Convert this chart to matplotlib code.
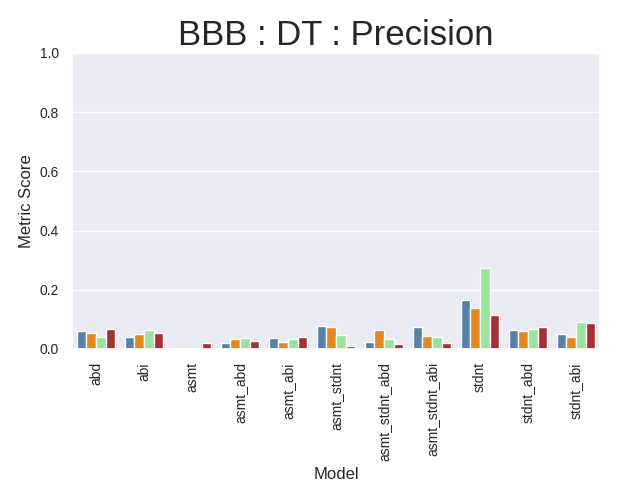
import matplotlib
matplotlib.use("Agg")
import matplotlib.pyplot as plt
import seaborn as sns
import pandas as pd

# models on the x axis
models = ["abd", "abi", "asmt", "asmt_abd", "asmt_abi", "asmt_stdnt",
          "asmt_stdnt_abd", "asmt_stdnt_abi", "stdnt", "stdnt_abd", "stdnt_abi"]

# precision per hue group
grp1 = [0.061, 0.040, 0.000, 0.019, 0.037, 0.078, 0.023, 0.074, 0.164, 0.064, 0.050]
grp2 = [0.054, 0.050, 0.000, 0.033, 0.023, 0.074, 0.064, 0.043, 0.140, 0.061, 0.040]
grp3 = [0.040, 0.064, 0.000, 0.037, 0.033, 0.047, 0.033, 0.040, 0.274, 0.068, 0.092]
grp4 = [0.068, 0.054, 0.019, 0.026, 0.040, 0.011, 0.016, 0.019, 0.116, 0.074, 0.088]
groups = ["g1", "g2", "g3", "g4"]
colors = ["steelblue", "darkorange", "lightgreen", "firebrick"]

rows = []
for g, vals in zip(groups, [grp1, grp2, grp3, grp4]):
    for m, v in zip(models, vals):
        rows.append({"Model": m, "Metric Score": v, "grp": g})
df = pd.DataFrame(rows)

sns.set_theme(style="darkgrid")
plt.rcParams['font.family'] = ['Liberation Sans', 'DejaVu Sans']

fig, ax = plt.subplots(figsize=(6.25, 5), dpi=100)
sns.barplot(data=df, x="Model", y="Metric Score", hue="grp", order=models,
            hue_order=groups, palette=colors, saturation=0.75, ax=ax)
ax.legend_.remove()
ax.set_ylim(0, 1.0)
ax.set_title("BBB : DT : Precision", fontsize=25)
ax.set_xlabel("Model", fontsize=12)
ax.set_ylabel("Metric Score", fontsize=12)
ax.tick_params(axis='x', labelrotation=90, labelsize=10)
ax.tick_params(axis='y', labelsize=10)

fig.subplots_adjust(left=0.1152, right=0.96, top=0.894, bottom=0.302)
plt.savefig("out.png")
